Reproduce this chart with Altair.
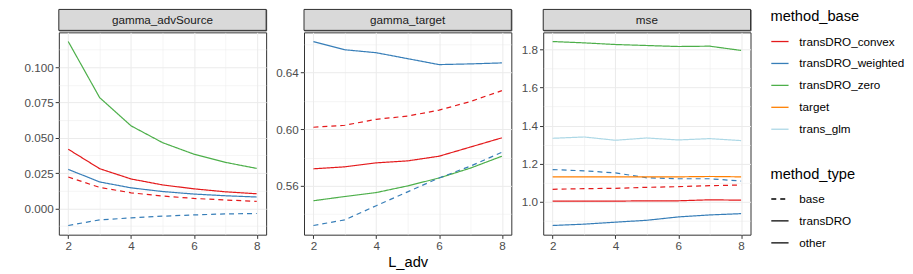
import json
import altair as alt
import pandas as pd

L_adv = [2, 3, 4, 5, 6, 7, 8]
metrics = ["gamma_advSource", "gamma_target", "mse"]
method_bases = ["transDRO_convex", "transDRO_weighted", "transDRO_zero", "target", "trans_glm"]
method_types = ["base", "transDRO", "other"]
base_colors = ["#E41A1C", "#377EB8", "#4DAF4A", "#FF7F00", "#ADD8E6"]

# gamma_advSource
src_convex_dro = [0.0419, 0.0281, 0.0208, 0.0166, 0.0138, 0.0117, 0.0103]
src_weighted_dro = [0.0276, 0.0187, 0.0145, 0.0119, 0.0101, 0.0089, 0.0080]
src_zero_dro = [0.1183, 0.0785, 0.0585, 0.0466, 0.0384, 0.0326, 0.0283]
src_convex_base = [0.0222, 0.0148, 0.0110, 0.0087, 0.0070, 0.0059, 0.0049]
src_weighted_base = [-0.0122, -0.0082, -0.0068, -0.0056, -0.0047, -0.0040, -0.0037]

# gamma_target
tgt_weighted_dro = [0.6620, 0.6562, 0.6541, 0.6499, 0.6457, 0.6462, 0.6469]
tgt_convex_base = [0.6014, 0.6028, 0.6070, 0.6093, 0.6135, 0.6196, 0.6273]
tgt_convex_dro = [0.5720, 0.5734, 0.5762, 0.5776, 0.5809, 0.5874, 0.5939]
tgt_zero_dro = [0.5494, 0.5524, 0.5552, 0.5599, 0.5655, 0.5725, 0.5809]
tgt_weighted_base = [0.5319, 0.5359, 0.5459, 0.5557, 0.5655, 0.5739, 0.5837]

# mse
mse_zero_dro = [1.8415, 1.8346, 1.8260, 1.8207, 1.8155, 1.8173, 1.7948]
mse_trans_glm = [1.3335, 1.3404, 1.3231, 1.3352, 1.3248, 1.3318, 1.3214]
mse_weighted_base = [1.1693, 1.1624, 1.1520, 1.1260, 1.1210, 1.1210, 1.1090]
mse_target = [1.1310, 1.1310, 1.1310, 1.1310, 1.1310, 1.1330, 1.1310]
mse_convex_base = [1.0657, 1.0690, 1.0708, 1.0760, 1.0795, 1.0847, 1.0881]
mse_convex_dro = [1.0035, 1.0035, 1.0035, 1.0052, 1.0052, 1.0104, 1.0086]
mse_weighted_dro = [0.8756, 0.8825, 0.8930, 0.9030, 0.9205, 0.9310, 0.9378]

series = [
    ("gamma_advSource", "transDRO_convex", "transDRO", src_convex_dro),
    ("gamma_advSource", "transDRO_weighted", "transDRO", src_weighted_dro),
    ("gamma_advSource", "transDRO_zero", "transDRO", src_zero_dro),
    ("gamma_advSource", "transDRO_convex", "base", src_convex_base),
    ("gamma_advSource", "transDRO_weighted", "base", src_weighted_base),
    ("gamma_target", "transDRO_convex", "transDRO", tgt_convex_dro),
    ("gamma_target", "transDRO_weighted", "transDRO", tgt_weighted_dro),
    ("gamma_target", "transDRO_zero", "transDRO", tgt_zero_dro),
    ("gamma_target", "transDRO_convex", "base", tgt_convex_base),
    ("gamma_target", "transDRO_weighted", "base", tgt_weighted_base),
    ("mse", "transDRO_convex", "transDRO", mse_convex_dro),
    ("mse", "transDRO_weighted", "transDRO", mse_weighted_dro),
    ("mse", "transDRO_zero", "transDRO", mse_zero_dro),
    ("mse", "transDRO_convex", "base", mse_convex_base),
    ("mse", "transDRO_weighted", "base", mse_weighted_base),
    ("mse", "target", "other", mse_target),
    ("mse", "trans_glm", "other", mse_trans_glm),
]

rows = []
for metric, mb, mt, vals in series:
    for x, v in zip(L_adv, vals):
        rows.append(dict(metric=metric, method_base=mb, method_type=mt,
                         L_adv=x, value=v, series=mb + "|" + mt))
df = pd.DataFrame(rows)

x_major = [2, 4, 6, 8]
x_minor = [3, 5, 7]
y_major = {
    "gamma_advSource": [0.0, 0.025, 0.05, 0.075, 0.1],
    "gamma_target": [0.56, 0.60, 0.64],
    "mse": [1.0, 1.2, 1.4, 1.6, 1.8],
}
y_minor = {
    "gamma_advSource": [-0.0125, 0.0125, 0.0375, 0.0625, 0.0875, 0.1125],
    "gamma_target": [0.54, 0.58, 0.62, 0.66],
    "mse": [0.9, 1.1, 1.3, 1.5, 1.7],
}
y_format = {"gamma_advSource": ".3f", "gamma_target": ".2f", "mse": ".1f"}
y_extent = {"gamma_advSource": 50, "gamma_target": 30, "mse": 24}

FONT = "Liberation Sans"
W, H, SH = 208, 203, 21


def expand(vals):
    lo, hi = min(vals), max(vals)
    r = hi - lo
    return [lo - 0.05 * r, hi + 0.05 * r]


def make_axis(major, minor, fmt, title=None, extent=None):
    test = "indexof(%s, datum.value) >= 0" % json.dumps(minor)
    kw = dict(
        values=sorted(major + minor),
        format=fmt,
        labelExpr="%s ? '' : datum.label" % test,
        gridWidth={"condition": {"test": test, "value": 0.5}, "value": 1.0},
        tickOpacity={"condition": {"test": test, "value": 0}, "value": 1},
        labelOverlap=False,
        labelFlush=False,
        title=title,
    )
    if extent is not None:
        kw["minExtent"] = extent
        kw["maxExtent"] = extent
    return alt.Axis(**kw)


panels = []
for m in metrics:
    sub = df[df.metric == m]
    xaxis = make_axis(x_major, x_minor, "d", title="L_adv" if m == "gamma_target" else None)
    yaxis = make_axis(y_major[m], y_minor[m], y_format[m], extent=y_extent[m])
    lines = alt.Chart(sub).mark_line(strokeWidth=1.2).encode(
        x=alt.X("L_adv:Q", scale=alt.Scale(domain=expand(L_adv), nice=False, zero=False), axis=xaxis),
        y=alt.Y("value:Q", scale=alt.Scale(domain=expand(list(sub.value)), nice=False, zero=False), axis=yaxis),
        color=alt.Color("method_base:N",
                        scale=alt.Scale(domain=method_bases, range=base_colors),
                        legend=alt.Legend(title="method_base", orient="right")),
        strokeDash=alt.StrokeDash("method_type:N",
                                  scale=alt.Scale(domain=method_types, range=[[5, 4], [1, 0], [1, 0]]),
                                  legend=alt.Legend(title=["", "method_type"], orient="right",
                                                    titleLineHeight=23,
                                                    symbolStrokeColor="black")),
        detail="series:N",
    ).properties(width=W, height=H)

    sdf = pd.DataFrame({"metric": [m]})
    rect = alt.Chart(sdf).mark_rect(fill="#D9D9D9", stroke="#333333", strokeWidth=1,
                                    cornerRadius=0).encode(
        x=alt.value(0), x2=alt.value(W), y=alt.value(0), y2=alt.value(SH))
    txt = alt.Chart(sdf).mark_text(font=FONT, fontSize=11.7, color="#1A1A1A",
                                   baseline="middle", align="center").encode(
        text="metric:N", x=alt.value(W / 2), y=alt.value(SH / 2 + 0.5))
    strip = alt.layer(rect, txt).properties(width=W, height=SH)
    panels.append(alt.vconcat(strip, lines, spacing=0))

chart = alt.hconcat(*panels, spacing=6).properties(padding=0).configure_view(
    stroke="#333333", strokeWidth=1
).configure_axis(
    domain=False,
    labelFont=FONT, labelFontSize=11.7, labelColor="#4D4D4D", labelPadding=2,
    tickColor="#333333", tickSize=3.7, tickWidth=1,
    gridColor="#EBEBEB",
    titleFont=FONT, titleFontSize=14.7, titleColor="#000000", titleFontWeight="normal",
    titlePadding=3,
).configure_legend(
    titleFont=FONT, titleFontSize=14.7, titleFontWeight="normal", titleColor="#000000",
    titlePadding=8,
    labelFont=FONT, labelFontSize=11.7, labelColor="#000000", labelOffset=10,
    symbolType="stroke", symbolSize=300, symbolStrokeWidth=1.3,
    rowPadding=5, offset=19, padding=0,
)

chart.save("out.html", embed_options={"renderer": "svg", "actions": False})
